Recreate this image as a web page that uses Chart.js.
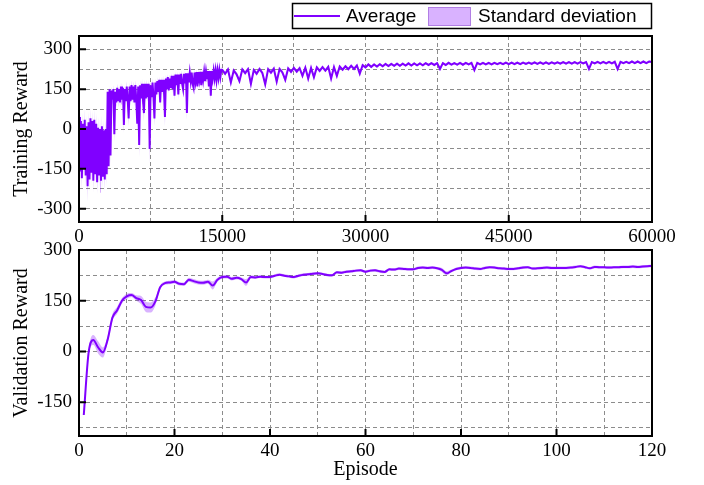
<!DOCTYPE html>
<html>
<head>
<meta charset="utf-8">
<script src="https://cdn.jsdelivr.net/npm/chart.js@4.4.0/dist/chart.umd.min.js"></script>
<style>
  body { margin: 0; background: #fff; }
  #wrap { position: relative; width: 704px; height: 485px; }
  canvas { position: absolute; left: 0; }
</style>
</head>
<body>
<div id="wrap">
  <canvas id="trainChart" width="704" height="250" style="top:0"></canvas>
  <canvas id="valChart" width="704" height="255" style="top:230px"></canvas>
</div>
<script>
// ---------- training reward (episodes 0..14900 every 100, then 15000..60000 every 300)
const trainStepEarly = 100;
const trainStepLate = 300;
const trainAvgEarly = [
  45, -160, 30, -185, 20, -150, 35, -175, 10, -215,
  25, -190, 40, -165, 30, -195, 35, -170, 20, -200,
  5, -175, 0, -195, 10, -180, -5, -190, 0, -170,
  140, -140, 150, -100, 145, 110, 150, -20, 140, 100,
  155, 105, 150, 100, 160, 110, 155, 15, 150, 105,
  160, 110, 40, 160, 105, 165, 110, 160, 100, 165,
  110, 20, 160, -60, 165, 115, 170, 110, 60, 170,
  115, 170, 120, 170, -75, 165, 120, 175, 120, 40,
  175, 130, 180, 140, 185, 100, 185, 140, 185, 145,
  45, 190, 150, 195, 145, 190, 155, 200, 150, 200,
  125, 205, 165, 205, 130, 205, 170, 208, 170, 150,
  208, 175, 210, 60, 210, 175, 212, 180, 212, 170,
  155, 212, 180, 214, 160, 214, 185, 215, 165, 215,
  185, 216, 180, 216, 188, 218, 160, 218, 125, 218,
  190, 220, 190, 220, 185, 220, 192, 222, 195, 222
];
const trainStdEarly = [
  35, 45, 40, 45, 40, 40, 40, 45, 40, 60,
  40, 45, 40, 40, 40, 45, 40, 40, 40, 45,
  40, 45, 40, 45, 40, 40, 40, 45, 40, 45,
  15, 40, 15, 40, 15, 20, 15, 30, 15, 20,
  15, 25, 15, 18, 15, 18, 15, 30, 15, 15,
  20, 15, 30, 15, 15, 18, 15, 20, 15, 18,
  15, 30, 18, 45, 20, 15, 18, 15, 30, 15,
  15, 15, 18, 15, 60, 20, 15, 15, 12, 30,
  15, 12, 15, 12, 12, 20, 12, 12, 15, 12,
  35, 15, 12, 12, 10, 15, 12, 10, 15, 10,
  20, 10, 12, 10, 18, 10, 10, 12, 10, 15,
  10, 12, 10, 25, 12, 10, 10, 10, 12, 10,
  15, 10, 10, 10, 12, 10, 10, 8, 12, 10,
  10, 8, 12, 10, 10, 8, 12, 10, 20, 10,
  8, 10, 8, 12, 8, 10, 8, 10, 8, 10
];
const trainAvgLate = [
  222, 208, 224, 175, 220, 206, 180, 224, 210, 225,
  170, 222, 208, 226, 211, 168, 225, 212, 227, 178,
  226, 213, 185, 228, 215, 230, 216, 229, 200, 231,
  190, 230, 195, 232, 219, 233, 220, 234, 190, 233,
  200, 235, 223, 236, 225, 238, 226, 239, 208, 240,
  232, 243, 234, 243, 235, 244, 236, 245, 237, 245,
  238, 246, 238, 246, 239, 247, 239, 247, 240, 247,
  240, 248, 241, 248, 241, 248, 226, 248, 241, 249,
  242, 248, 242, 249, 242, 249, 243, 249, 222, 249,
  243, 249, 243, 249, 243, 249, 244, 249, 244, 250,
  244, 250, 244, 250, 244, 250, 245, 250, 245, 251,
  245, 251, 245, 251, 245, 251, 246, 251, 246, 252,
  246, 252, 246, 252, 246, 252, 247, 252, 226, 252,
  247, 253, 247, 253, 247, 253, 247, 253, 226, 253,
  248, 253, 248, 254, 248, 254, 248, 254, 248, 254, 252
];
const trainStdLate = [
  8, 8, 8, 12, 8, 8, 12, 8, 8, 8,
  12, 8, 8, 8, 8, 12, 8, 8, 8, 12,
  8, 8, 12, 7, 7, 7, 7, 7, 10, 7,
  12, 7, 10, 7, 7, 6, 6, 6, 12, 6,
  10, 6, 6, 6, 6, 6, 6, 6, 10, 6,
  5, 5, 5, 5, 5, 5, 5, 5, 5, 5,
  5, 5, 5, 5, 4, 5, 4, 5, 4, 5,
  4, 4, 4, 4, 4, 4, 8, 4, 4, 4,
  4, 4, 4, 4, 4, 4, 4, 4, 8, 4,
  4, 4, 4, 4, 4, 4, 4, 4, 4, 4,
  4, 4, 4, 4, 4, 4, 4, 4, 4, 4,
  4, 4, 4, 4, 4, 4, 4, 4, 4, 4,
  4, 4, 4, 4, 4, 4, 4, 4, 8, 4,
  4, 4, 4, 4, 4, 4, 4, 4, 8, 4,
  4, 4, 4, 4, 4, 4, 4, 4, 4, 4, 4
];
const trainXGrid = [0, 7500, 15000, 22500, 30000, 37500, 45000, 52500, 60000];
const trainYGrid = [-300, -225, -150, -75, 0, 75, 150, 225, 300];

// ---------- validation reward (episodes 1..120)
const valAvg = [
  -188, -5, 34, 12, -3, 35, 100, 122, 150, 163,
  167, 158, 152, 132, 130, 148, 190, 202, 204, 206,
  200, 199, 212, 208, 204, 203, 206, 195, 212, 220,
  221, 215, 218, 214, 204, 220, 219, 221, 220, 220,
  224, 227, 224, 222, 220, 224, 227, 228, 230, 231,
  229, 226, 225, 234, 233, 236, 237, 239, 240, 236,
  239, 240, 237, 235, 243, 242, 245, 244, 243, 243,
  247, 248, 247, 248, 246, 241, 231, 238, 244, 247,
  248, 247, 245, 244, 247, 249, 248, 246, 245, 244,
  244, 246, 248, 249, 245, 246, 247, 248, 247, 247,
  247, 247, 248, 250, 252, 249, 246, 250, 249, 249,
  248, 249, 249, 250, 250, 251, 250, 251, 252, 253
];
const valStd = [
  12, 10, 15, 18, 15, 10, 10, 10, 8, 8,
  6, 8, 12, 15, 15, 12, 6, 5, 5, 5,
  5, 5, 6, 6, 6, 6, 6, 12, 6, 5,
  5, 5, 5, 5, 10, 5, 4, 4, 4, 4,
  4, 4, 4, 4, 4, 4, 4, 4, 4, 4,
  4, 4, 4, 4, 4, 4, 4, 4, 4, 4,
  4, 4, 4, 4, 4, 4, 4, 4, 4, 4,
  4, 4, 4, 4, 4, 6, 6, 4, 4, 4,
  4, 4, 4, 4, 4, 4, 4, 4, 4, 4,
  4, 4, 4, 4, 4, 4, 4, 4, 4, 4,
  4, 4, 4, 4, 4, 4, 4, 4, 4, 4,
  4, 4, 4, 4, 4, 4, 4, 4, 4, 4
];
const valXGrid = [0, 10, 20, 30, 40, 50, 60, 70, 80, 90, 100, 110, 120];
const valYGrid = [-225, -150, -75, 0, 75, 150, 225, 300];

// ---------- colours / fonts
const lineColor = '#8000ff';
const bandColor = 'rgba(128, 0, 255, 0.3)';
const gridColor = '#8c8c8c';
const tickFont = { family: 'Liberation Serif', size: 19 };
const titleFont = { family: 'Liberation Serif', size: 20 };

// episodes for training points
const trainEpisodes = [];
trainAvgEarly.forEach((v, i) => trainEpisodes.push(i * trainStepEarly));
trainAvgLate.forEach((v, j) => trainEpisodes.push(15000 + j * trainStepLate));
const trainAvg = trainAvgEarly.concat(trainAvgLate);
const trainStd = trainStdEarly.concat(trainStdLate);
const valEpisodes = valAvg.map((v, i) => i + 1);

function toPoints(xs, ys) {
  return ys.map((y, i) => ({ x: xs[i], y: y }));
}

// frame around plot + inward ticks at labelled values
const framePlugin = {
  id: 'frame',
  afterDraw(chart) {
    const { ctx, chartArea: a, scales } = chart;
    ctx.save();
    ctx.strokeStyle = '#000';
    ctx.lineWidth = 2;
    ctx.strokeRect(a.left, a.top, a.right - a.left, a.bottom - a.top);
    ctx.beginPath();
    scales.x.ticks.forEach(t => {
      if (t.label === '') return;
      const x = scales.x.getPixelForValue(t.value);
      ctx.moveTo(x, a.bottom);
      ctx.lineTo(x, a.bottom - 7);
    });
    scales.y.ticks.forEach(t => {
      if (t.label === '') return;
      const y = scales.y.getPixelForValue(t.value);
      ctx.moveTo(a.left, y);
      ctx.lineTo(a.left + 7, y);
    });
    ctx.stroke();
    ctx.restore();
  }
};

// boxed legend above the top panel
const legendPlugin = {
  id: 'boxLegend',
  afterDraw(chart) {
    const ctx = chart.ctx;
    ctx.save();
    ctx.strokeStyle = '#000';
    ctx.lineWidth = 1.5;
    ctx.strokeRect(292.5, 3.5, 359, 25);
    ctx.strokeStyle = lineColor;
    ctx.lineWidth = 2;
    ctx.beginPath();
    ctx.moveTo(294, 16);
    ctx.lineTo(340, 16);
    ctx.stroke();
    ctx.fillStyle = bandColor;
    ctx.fillRect(428, 7, 43, 19);
    ctx.strokeStyle = 'rgba(150, 90, 210, 0.6)';
    ctx.lineWidth = 1;
    ctx.strokeRect(428.5, 7.5, 42, 18);
    ctx.fillStyle = '#000';
    ctx.font = '19px "Liberation Sans"';
    ctx.textBaseline = 'middle';
    ctx.fillText('Average', 346, 16.5);
    ctx.fillText('Standard deviation', 478, 16.5);
    ctx.restore();
  }
};

function makeScales(cfg) {
  return {
    x: {
      type: 'linear', min: cfg.xMin, max: cfg.xMax,
      afterBuildTicks: s => { s.ticks = cfg.xGrid.map(v => ({ value: v })); },
      afterFit: s => { s.height = cfg.xHeight; },
      ticks: {
        autoSkip: false, maxRotation: 0, padding: 4, color: '#000', font: tickFont,
        callback: v => (v % cfg.xLabelEvery === 0 ? String(v) : '')
      },
      grid: { color: gridColor, lineWidth: 1, drawTicks: false },
      border: { display: false, dash: [4, 3] },
      title: cfg.xTitle
        ? { display: true, text: cfg.xTitle, color: '#000', font: titleFont, padding: { top: 0, bottom: 3 } }
        : { display: false }
    },
    y: {
      type: 'linear', min: cfg.yMin, max: cfg.yMax,
      afterBuildTicks: s => { s.ticks = cfg.yGrid.map(v => ({ value: v })); },
      afterFit: s => { s.width = 79; },
      ticks: {
        autoSkip: false, padding: 7, color: '#000', font: tickFont,
        callback: v => (v % 150 === 0 ? String(v) : '')
      },
      grid: { color: gridColor, lineWidth: 1, drawTicks: false },
      border: { display: false, dash: [4, 3] },
      title: { display: true, text: cfg.yTitle, color: '#000', font: titleFont, padding: { top: 10, bottom: 0 } }
    }
  };
}

// ====== top panel: training reward
new Chart(document.getElementById('trainChart'), {
  type: 'line',
  data: {
    datasets: [
      {
        label: 'Average',
        data: toPoints(trainEpisodes, trainAvg),
        borderColor: lineColor, borderWidth: 2, pointRadius: 0, fill: false, tension: 0
      },
      {
        label: 'Standard deviation',
        data: toPoints(trainEpisodes, trainAvg.map((v, i) => v + trainStd[i])),
        borderWidth: 0, pointRadius: 0, backgroundColor: bandColor, fill: '+1', tension: 0
      },
      {
        label: 'lower',
        data: toPoints(trainEpisodes, trainAvg.map((v, i) => v - trainStd[i])),
        borderWidth: 0, pointRadius: 0, fill: false, tension: 0
      }
    ]
  },
  options: {
    responsive: false,
    animation: false,
    events: [],
    layout: { padding: { left: 0, right: 52, top: 36, bottom: 0 } },
    plugins: { legend: { display: false }, tooltip: { enabled: false } },
    scales: makeScales({
      xMin: 0, xMax: 60000, xGrid: trainXGrid, xLabelEvery: 15000, xHeight: 28,
      yMin: -350, yMax: 350, yGrid: trainYGrid, yTitle: 'Training Reward'
    })
  },
  plugins: [framePlugin, legendPlugin]
});

// ====== bottom panel: validation reward
new Chart(document.getElementById('valChart'), {
  type: 'line',
  data: {
    datasets: [
      {
        label: 'Average',
        data: toPoints(valEpisodes, valAvg),
        borderColor: lineColor, borderWidth: 2, pointRadius: 0, fill: false,
        cubicInterpolationMode: 'monotone'
      },
      {
        label: 'Standard deviation',
        data: toPoints(valEpisodes, valAvg.map((v, i) => v + valStd[i])),
        borderWidth: 0, pointRadius: 0, backgroundColor: bandColor, fill: '+1',
        cubicInterpolationMode: 'monotone'
      },
      {
        label: 'lower',
        data: toPoints(valEpisodes, valAvg.map((v, i) => v - valStd[i])),
        borderWidth: 0, pointRadius: 0, fill: false,
        cubicInterpolationMode: 'monotone'
      }
    ]
  },
  options: {
    responsive: false,
    animation: false,
    events: [],
    layout: { padding: { left: 0, right: 52, top: 20, bottom: 0 } },
    plugins: { legend: { display: false }, tooltip: { enabled: false } },
    scales: makeScales({
      xMin: 0, xMax: 120, xGrid: valXGrid, xLabelEvery: 20, xHeight: 49, xTitle: 'Episode',
      yMin: -250, yMax: 300, yGrid: valYGrid, yTitle: 'Validation Reward'
    })
  },
  plugins: [framePlugin]
});
</script>
</body>
</html>
